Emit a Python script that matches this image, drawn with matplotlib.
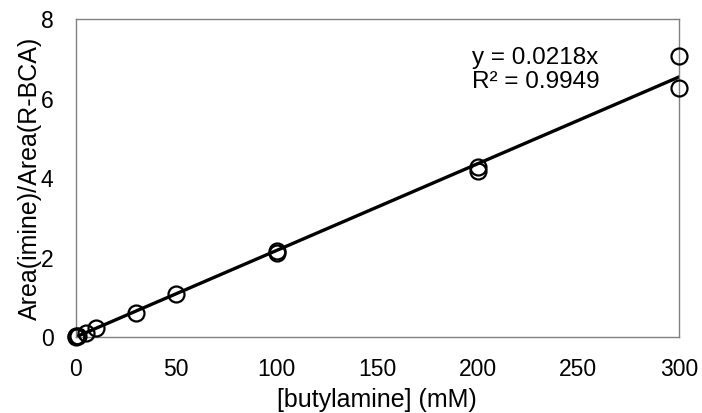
import matplotlib

matplotlib.use("Agg")
import matplotlib.pyplot as plt
import numpy as np

# butylamine concentration (mM) and imine / R-BCA peak area ratio
conc = [0, 0, 1, 5, 10, 30, 50, 100, 100, 200, 200, 300, 300]
ratio = [0.0, 0.02, 0.03, 0.1, 0.22, 0.6, 1.09, 2.17, 2.12, 4.27, 4.17, 7.08, 6.26]

slope = 0.0218
r_squared = 0.9949
fit_x = [0, 300]

plt.rcParams["font.family"] = ["Liberation Sans", "DejaVu Sans"]

fig = plt.figure(figsize=(7.02, 4.13), dpi=100)
ax = fig.add_axes([0.108, 0.184, 0.859, 0.770])

ax.plot(fit_x, [slope * v for v in fit_x], color="black", linewidth=2.4, zorder=2)
ax.plot(conc, ratio, linestyle="none", marker="o", markersize=11.5,
        markerfacecolor="none", markeredgecolor="black", markeredgewidth=1.6,
        zorder=3, clip_on=False)

ax.set_xlim(0, 300)
ax.set_ylim(0, 8)
ax.set_xticks(np.arange(0, 301, 50))
ax.set_yticks(np.arange(0, 9, 2))
ax.tick_params(length=0, labelsize=16.5, colors="black")
ax.tick_params(axis="x", pad=15)
ax.tick_params(axis="y", pad=16)
for side in ax.spines.values():
    side.set_color("#808080")
    side.set_linewidth(1.0)

ax.set_xlabel("[butylamine] (mM)", fontsize=18, labelpad=5)
ax.set_ylabel("Area(imine)/Area(R-BCA)", fontsize=18, labelpad=-1)

ax.text(197, 7.3, f"y = {slope}x\nR² = {r_squared}", fontsize=17.5,
        ha="left", va="top", linespacing=1.1)

fig.savefig("out.png", dpi=100)
